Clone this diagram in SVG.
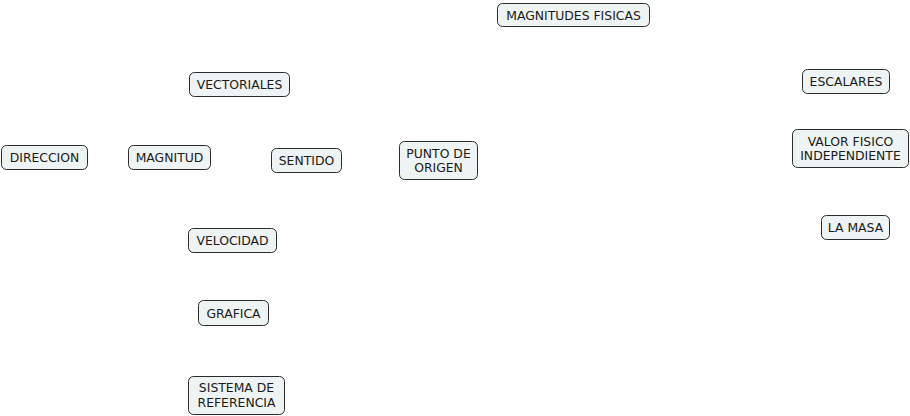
<svg xmlns="http://www.w3.org/2000/svg" width="910" height="416" viewBox="0 0 910 416">
<style>
.n rect{fill:#eef3f3;stroke:#2b2b2b;stroke-width:1}
.n text{font-family:"DejaVu Sans",Verdana,sans-serif;font-size:12.4px;fill:#1a1a1a;text-anchor:middle}
</style>
<rect width="910" height="416" fill="#ffffff"/>
<g id="connectors"></g>
<g id="n-magnitudes" class="n"><rect x="497.5" y="3.5" width="152" height="23" rx="5"/><text x="573.5" y="19.5">MAGNITUDES FISICAS</text></g>
<g id="n-vectoriales" class="n"><rect x="189.5" y="72.5" width="100" height="24" rx="5"/><text x="239.5" y="89">VECTORIALES</text></g>
<g id="n-direccion" class="n"><rect x="1.5" y="145.5" width="86" height="24" rx="5"/><text x="44.5" y="162">DIRECCION</text></g>
<g id="n-magnitud" class="n"><rect x="128.5" y="145.5" width="82" height="24" rx="5"/><text x="169.5" y="162">MAGNITUD</text></g>
<g id="n-sentido" class="n"><rect x="271.5" y="148.5" width="70" height="24" rx="5"/><text x="306.5" y="165">SENTIDO</text></g>
<g id="n-punto" class="n"><rect x="399.5" y="141.5" width="78" height="38" rx="5"/><text x="438.5" y="157.5">PUNTO DE</text><text x="438.5" y="172">ORIGEN</text></g>
<g id="n-escalares" class="n"><rect x="802.5" y="69.5" width="87" height="24" rx="5"/><text x="846" y="86">ESCALARES</text></g>
<g id="n-valor" class="n"><rect x="792.5" y="129.5" width="116" height="38" rx="5"/><text x="850.5" y="145.5">VALOR FISICO</text><text x="850.5" y="159.5">INDEPENDIENTE</text></g>
<g id="n-masa" class="n"><rect x="821.5" y="215.5" width="68" height="24" rx="5"/><text x="855.5" y="232">LA MASA</text></g>
<g id="n-velocidad" class="n"><rect x="188.5" y="228.5" width="88" height="24" rx="5"/><text x="232.5" y="245">VELOCIDAD</text></g>
<g id="n-grafica" class="n"><rect x="198.5" y="300.5" width="70" height="25" rx="5"/><text x="233.5" y="317.5">GRAFICA</text></g>
<g id="n-sistema" class="n"><rect x="188.5" y="376.5" width="96" height="38" rx="5"/><text x="236.5" y="392">SISTEMA DE</text><text x="236.5" y="406.5">REFERENCIA</text></g>
</svg>
